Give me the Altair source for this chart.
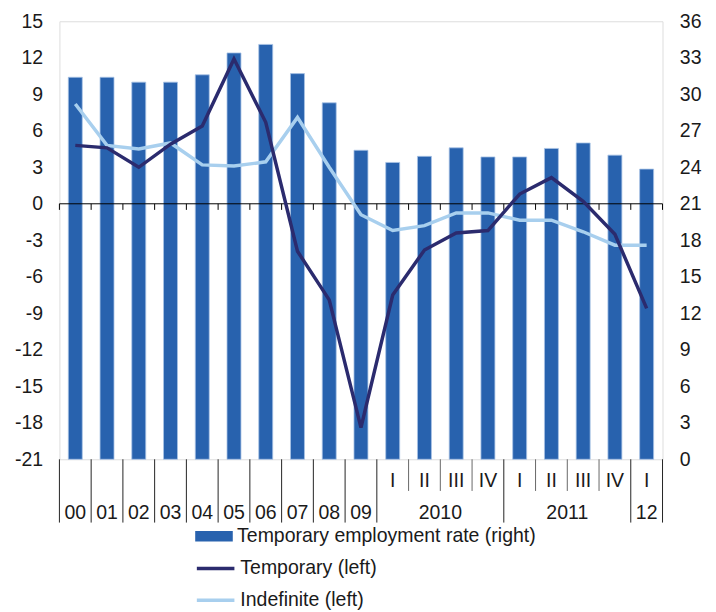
import altair as alt
import pandas as pd

categories = ["00", "01", "02", "03", "04", "05", "06", "07", "08", "09",
              "2010 I", "2010 II", "2010 III", "2010 IV",
              "2011 I", "2011 II", "2011 III", "2011 IV", "2012 I"]
year_labels = ["00", "01", "02", "03", "04", "05", "06", "07", "08", "09",
               "2010", "2010", "2010", "2010",
               "2011", "2011", "2011", "2011", "12"]
quarter_labels = [""] * 10 + ["I", "II", "III", "IV", "I", "II", "III", "IV", "I"]

temp_rate = [31.4, 31.4, 31.0, 31.0, 31.6, 33.4, 34.1, 31.7, 29.3, 25.4,
             24.4, 24.9, 25.6, 24.85, 24.85, 25.55, 26.0, 25.0, 23.85]
temporary = [4.8, 4.6, 3.0, 4.9, 6.4, 11.9, 6.7, -3.9, -7.9, -18.4,
             -7.5, -3.8, -2.4, -2.2, 0.8, 2.15, 0.2, -2.5, -8.6]
indefinite = [8.2, 4.8, 4.5, 5.0, 3.2, 3.1, 3.45, 7.1, 3.0, -0.9,
              -2.2, -1.8, -0.75, -0.75, -1.35, -1.35, -2.3, -3.4, -3.4]

BAR_NAME = "Temporary employment rate (right)"
TEMP_NAME = "Temporary (left)"
INDEF_NAME = "Indefinite (left)"

FONT = "Arial"
TXT = "#1a1a1a"
FS = 19.7
n = len(categories)

df = pd.DataFrame({"cat": categories, "idx": range(n), "rate": temp_rate})
df["xc"] = df["idx"] + 0.5
df["xl"] = df["idx"] + 0.28
df["xr"] = df["idx"] + 0.72
df["bar_series"] = BAR_NAME

lines_df = pd.concat([
    pd.DataFrame({"xc": df["xc"], "value": indefinite, "series": INDEF_NAME}),
    pd.DataFrame({"xc": df["xc"], "value": temporary, "series": TEMP_NAME}),
], ignore_index=True)

bounds = list(range(n + 1))
def is_long(b):
    if b == 0 or b == n:
        return True
    return year_labels[b] != year_labels[b - 1]
bounds_df = pd.DataFrame({"b": bounds, "long": [is_long(b) for b in bounds]})

q_df = pd.DataFrame({"xc": df["xc"], "q": quarter_labels})
q_df = q_df[q_df["q"] != ""]

groups = []
start = 0
for i in range(1, n + 1):
    if i == n or year_labels[i] != year_labels[start]:
        groups.append({"label": year_labels[start], "xc": (start + i) / 2})
        start = i
yg_df = pd.DataFrame(groups)

zero_df = pd.DataFrame({"x0": [0], "x1": [n], "y": [0]})

xscale = alt.Scale(domain=[0, n], nice=False, zero=False)
left_scale = alt.Scale(domain=[-21, 15], nice=False, zero=False)
left_axis = alt.Axis(orient="left", values=list(range(-21, 16, 3)), domain=False,
                     ticks=False, grid=False, labelPadding=17, labelFontSize=FS,
                     labelFont=FONT, labelColor=TXT, title=None,
                     labelExpr="'' + datum.value")

bars = alt.Chart(df).mark_bar(stroke="#A9C3E6", strokeWidth=0.8).encode(
    x=alt.X("xl:Q", scale=xscale, axis=None),
    x2="xr:Q",
    y=alt.Y("rate:Q", scale=alt.Scale(domain=[0, 36], nice=False, zero=True),
            axis=alt.Axis(orient="right", values=list(range(0, 37, 3)), domain=False,
                          ticks=False, grid=False, labelPadding=17, labelFontSize=FS,
                          labelFont=FONT, labelColor=TXT, title=None)),
    y2=alt.Y2(datum=0),
    fill=alt.Fill("bar_series:N", scale=alt.Scale(range=["#2862AE"]),
                  legend=alt.Legend(title=None, orient="none", legendX=146.5, legendY=511,
                                    symbolType="M-2,-0.55H2V0.55H-2Z", symbolSize=361,
                                    symbolStrokeWidth=0, labelFontSize=FS, labelFont=FONT,
                                    labelColor=TXT, labelOffset=13.5, padding=0, labelLimit=500)),
)

stroke_scale = alt.Scale(domain=[TEMP_NAME, INDEF_NAME], range=["#2B2B6E", "#A8CFEE"])
line_legend = alt.Legend(title=None, orient="none", legendX=146.5, legendY=542,
                         symbolType="M-2,0H2", symbolSize=361, symbolStrokeWidth=3.5,
                         labelFontSize=FS, labelFont=FONT, labelColor=TXT,
                         labelOffset=13.5, padding=0, rowPadding=10, labelLimit=500)

def line_layer(name):
    return alt.Chart(lines_df).transform_filter(alt.datum.series == name).mark_line(
        strokeWidth=3.5).encode(
        x=alt.X("xc:Q", scale=xscale, axis=None),
        y=alt.Y("value:Q", scale=left_scale, axis=left_axis),
        stroke=alt.Stroke("series:N", scale=stroke_scale, legend=line_legend),
    )

zero_rule = alt.Chart(zero_df).mark_rule(color="#000000", strokeWidth=1).encode(
    x=alt.X("x0:Q", scale=xscale, axis=None), x2="x1:Q",
    y=alt.Y("y:Q", scale=left_scale, axis=left_axis),
)
zero_ticks = alt.Chart(bounds_df).mark_rule(color="#000000", strokeWidth=1).encode(
    x=alt.X("b:Q", scale=xscale, axis=None),
    y=alt.Y(datum=0, scale=left_scale, axis=left_axis),
    y2=alt.Y2(datum=-0.5),
)
short_lines = alt.Chart(bounds_df).transform_filter("!datum.long").mark_rule(
    color="#666666", strokeWidth=1).encode(
    x=alt.X("b:Q", scale=xscale, axis=None), y=alt.value(443), y2=alt.value(475))
long_lines = alt.Chart(bounds_df).transform_filter("datum.long").mark_rule(
    color="#222222", strokeWidth=1).encode(
    x=alt.X("b:Q", scale=xscale, axis=None), y=alt.value(443), y2=alt.value(507))

q_text = alt.Chart(q_df).mark_text(fontSize=FS, font=FONT, color=TXT, baseline="middle").encode(
    x=alt.X("xc:Q", scale=xscale, axis=None), y=alt.value(465), text="q:N")
y_text = alt.Chart(yg_df).mark_text(fontSize=FS, font=FONT, color=TXT, baseline="middle").encode(
    x=alt.X("xc:Q", scale=xscale, axis=None), y=alt.value(497), text="label:N")

inner = alt.layer(zero_rule, zero_ticks, short_lines, long_lines, q_text, y_text,
                  line_layer(INDEF_NAME), line_layer(TEMP_NAME))

chart = alt.layer(bars, inner).resolve_scale(y="independent").properties(
    width=610, height=443,
    autosize=alt.AutoSizeParams(type="none"),
    padding={"left": 52, "top": 10, "right": 46, "bottom": 150},
).configure_view(stroke=None).configure(background="white")

chart.save("out.html", embed_options={"renderer": "svg", "actions": False})
